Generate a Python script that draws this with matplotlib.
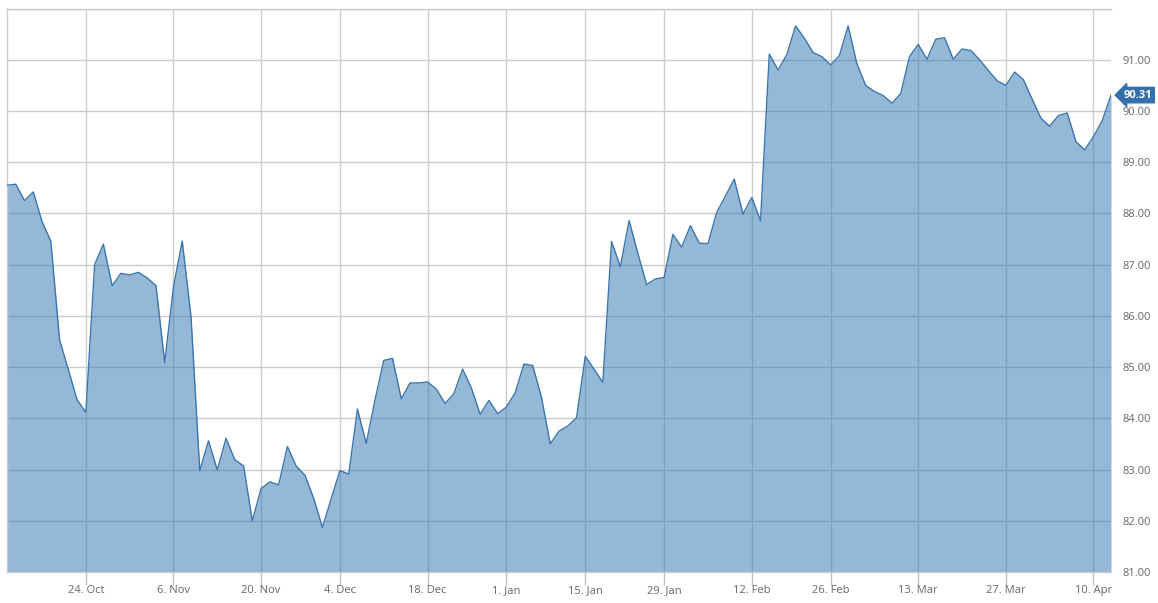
import matplotlib
matplotlib.use("Agg")
import matplotlib.pyplot as plt
import numpy as np

# daily closes (ordinal axis: one step per trading day)
values = [
    88.55, 88.57, 88.25, 88.42, 87.84, 87.46, 85.53, 84.95, 84.36, 84.12,
    87.00, 87.40, 86.59, 86.83, 86.80, 86.85, 86.74, 86.59, 85.09, 86.57,
    87.46, 85.99, 82.98, 83.56, 82.99, 83.61, 83.19, 83.07, 82.00, 82.63,
    82.76, 82.70, 83.45, 83.07, 82.89, 82.44, 81.87, 82.43, 82.98, 82.91,
    84.18, 83.51, 84.36, 85.13, 85.17, 84.38, 84.69, 84.69, 84.71, 84.57,
    84.29, 84.48, 84.96, 84.59, 84.08, 84.35, 84.09, 84.22, 84.50, 85.06,
    85.03, 84.41, 83.50, 83.75, 83.85, 84.01, 85.21, 84.96, 84.70, 87.45,
    86.96, 87.86, 87.22, 86.61, 86.72, 86.75, 87.59, 87.34, 87.76, 87.42,
    87.41, 88.02, 88.34, 88.67, 87.99, 88.31, 87.86, 91.11, 90.80, 91.10,
    91.66, 91.42, 91.14, 91.06, 90.90, 91.08, 91.66, 90.92, 90.50, 90.38,
    90.30, 90.15, 90.34, 91.06, 91.30, 91.01, 91.40, 91.43, 91.01, 91.21,
    91.18, 91.00, 90.79, 90.59, 90.50, 90.76, 90.61, 90.23, 89.86, 89.70,
    89.91, 89.96, 89.40, 89.24, 89.50, 89.81, 90.31,
]
tick_idx = [9, 19, 29, 38, 48, 57, 66, 75, 85, 94, 104, 114, 124]
tick_labels = ["24. Oct", "6. Nov", "20. Nov", "4. Dec", "18. Dec", "1. Jan",
               "15. Jan", "29. Jan", "12. Feb", "26. Feb", "13. Mar", "27. Mar", "10. Apr"]
y_ticks = list(range(81, 93))
last_value = values[-1]

plt.rcParams["font.family"] = ["Open Sans", "DejaVu Sans"]

W, H = 1158, 603
fig = plt.figure(figsize=(W / 100, H / 100), dpi=100)
left, right, top, bottom = 7, 1111, 8.5, 572
ax = fig.add_axes([left / W, 1 - bottom / H, (right - left) / W, (bottom - top) / H])

x = np.arange(len(values))
line_col = "#3a76ad"
ax.fill_between(x, 81, values, color="#3779b2", alpha=0.53, linewidth=0, zorder=2)
ax.plot(x, values, color=line_col, linewidth=1.0, zorder=3)

ax.set_xlim(0, len(values) - 1)
ax.set_ylim(81, 92)

# grid
ax.set_axisbelow(True)
ax.grid(True, color="#cccccc", linewidth=1.0, zorder=0)

# x axis
ax.set_xticks(tick_idx)
ax.set_xticklabels(tick_labels)
ax.tick_params(axis="x", direction="out", length=9, width=1, color="#c0c0c0",
               labelsize=8, labelcolor="#666666", pad=0.5)

# y axis on the right, no label for the top line
ax.yaxis.tick_right()
ax.set_yticks(y_ticks)
ax.set_yticklabels(["%.2f" % v if v < 92 else "" for v in y_ticks])
ax.tick_params(axis="y", length=0, labelsize=8, labelcolor="#666666", pad=8)

ax.spines["right"].set_visible(False)
for side in ["left", "top", "bottom"]:
    ax.spines[side].set_color("#cccccc")
    ax.spines[side].set_linewidth(1.0)

# last value flag
ax.annotate("%.2f" % last_value, xy=(1.0, last_value), xycoords=("axes fraction", "data"),
            xytext=(9, 0), textcoords="offset points", va="center", ha="left",
            fontsize=8, fontweight="bold", color="white",
            bbox=dict(boxstyle="larrow,pad=0.2", fc="#3470aa", ec="#3470aa"),
            annotation_clip=False)

fig.savefig("out.png", dpi=100)
